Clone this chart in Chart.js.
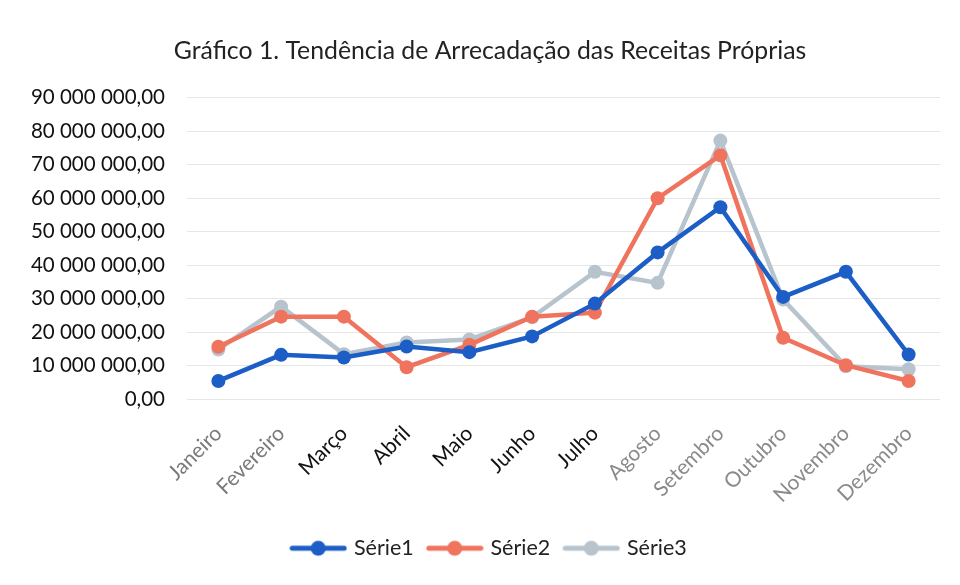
<!DOCTYPE html>
<html>
<head>
<meta charset="utf-8">
<script src="https://cdn.jsdelivr.net/npm/chart.js@4.4.0/dist/chart.umd.min.js"></script>
<style>
html,body{margin:0;padding:0;background:#fff;}
#wrap{width:960px;height:585px;}
</style>
</head>
<body>
<div id="wrap"><canvas id="c" width="960" height="585"></canvas></div>
<script>
const categories = ["Janeiro","Fevereiro","Março","Abril","Maio","Junho","Julho","Agosto","Setembro","Outubro","Novembro","Dezembro"];
const serie1 = [5400000, 13200000, 12400000, 15700000, 14000000, 18700000, 28500000, 43800000, 57300000, 30500000, 38000000, 13300000];
const serie2 = [15600000, 24600000, 24600000, 9500000, 16200000, 24600000, 25800000, 60000000, 72800000, 18300000, 10100000, 5400000];
const serie3 = [14800000, 27600000, 13400000, 16900000, 17800000, 24400000, 38000000, 34700000, 77200000, 29700000, 9800000, 8900000];
const yTicks = [0,10000000,20000000,30000000,40000000,50000000,60000000,70000000,80000000,90000000];
const seriesNames = ["Série1","Série2","Série3"];

const colors = ["#1c5ec6", "#ef735d", "#b7c4cd"];
const tickColors = ["#7a7a7a","#7a7a7a","#111","#111","#111","#111","#111","#8a8a8a","#8a8a8a","#8a8a8a","#8a8a8a","#8a8a8a"];

function fmt(v){
  const s = Math.round(v).toString().replace(/\B(?=(\d{3})+(?!\d))/g, " ");
  return s + ",00";
}
function legendImg(color){
  const cv = document.createElement('canvas');
  cv.width = 58; cv.height = 18;
  const g = cv.getContext('2d');
  g.strokeStyle = color; g.lineWidth = 5; g.lineCap='round';
  g.beginPath(); g.moveTo(3,9); g.lineTo(55,9); g.stroke();
  g.fillStyle = color;
  g.beginPath(); g.arc(29,9,7.5,0,Math.PI*2); g.fill();
  return cv;
}
const imgs = colors.map(legendImg);
const font = "Lato, 'Open Sans', sans-serif";

new Chart(document.getElementById('c'), {
  type: 'line',
  data: {
    labels: categories,
    datasets: [serie1, serie2, serie3].map((d,i)=>({
      label: seriesNames[i],
      data: d,
      borderColor: colors[i],
      backgroundColor: colors[i],
      borderWidth: 4.5,
      pointRadius: 7,
      pointHoverRadius: 7,
      pointBackgroundColor: colors[i],
      pointBorderWidth: 0,
      tension: 0,
      order: i,
      yAxisID: 'y'
    }))
  },
  options: {
    responsive: false,
    animation: false,
    devicePixelRatio: 1,
    layout: { padding: { left: 20, right: 0, top: 0, bottom: 16 } },
    plugins: {
      title: {
        display: true,
        text: "Gráfico 1. Tendência de Arrecadação das Receitas Próprias",
        color: "#222",
        font: { family: font, size: 24.8, weight: 'normal' },
        padding: { top: 36, bottom: 32 }
      },
      legend: {
        position: 'bottom',
        labels: {
          usePointStyle: true,
          pointStyleWidth: 50,
          color: "#222",
          font: { family: font, size: 21.5 },
          padding: 16,
          generateLabels(chart){
            return chart.data.datasets.map((ds,i)=>({
              text: ds.label,
              pointStyle: imgs[i],
              fillStyle: colors[i],
              strokeStyle: colors[i],
              lineWidth: 0,
              hidden: false,
              datasetIndex: i,
              fontColor: "#222"
            }));
          }
        }
      },
      tooltip: { enabled: false }
    },
    scales: {
      x: {
        offset: true,
        grid: { display: false },
        border: { display: false },
        ticks: {
          minRotation: 45, maxRotation: 45,
          color: tickColors,
          font: { family: font, size: 21 },
          padding: 14
        }
      },
      y: {
        min: 0, max: 90000000,
        afterBuildTicks(axis){ axis.ticks = yTicks.map(v=>({value:v})); },
        afterFit(axis){ axis.width = 167; },
        grid: { color: "#e6e6e6", lineWidth: 1, drawTicks: false },
        border: { display: false },
        ticks: {
          color: "#111",
          font: { family: font, size: 20.5 },
          padding: 22,
          callback: (v)=>fmt(v)
        }
      },
      yRight: {
        type: 'linear',
        position: 'right',
        display: true,
        grid: { display: false, drawTicks: false },
        border: { display: false },
        ticks: { display: false },
        afterFit(axis){ axis.width = 20; }
      }
    }
  }
});
</script>
</body>
</html>
